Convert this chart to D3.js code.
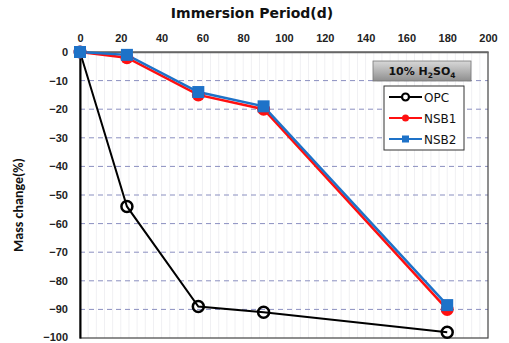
<!DOCTYPE html>
<html>
<head>
<meta charset="utf-8">
<script src="https://cdn.jsdelivr.net/npm/d3@7"></script>
<style>
  html, body { margin: 0; padding: 0; background: #fff; }
  svg { display: block; font-family: "DejaVu Sans", Verdana, sans-serif; }
</style>
</head>
<body>
<svg id="chart" width="509" height="343"></svg>
<script>
// Immersion period (days) and mass change (%) in 10% H2SO4
const days = [0, 23, 58, 90, 180];
const opc  = [0, -54, -89, -91, -98];
const nsb1 = [0, -2, -15, -20, -90];
const nsb2 = [0, -1, -14, -19, -88.5];
const xTicks = [0, 20, 40, 60, 80, 100, 120, 140, 160, 180, 200];
const yTicks = [0, -10, -20, -30, -40, -50, -60, -70, -80, -90, -100];
const seriesNames = ["OPC", "NSB1", "NSB2"];

const svg = d3.select("#chart");
const plotL = 80, plotR = 488, plotT = 52, plotB = 338;

const x = d3.scaleLinear().domain([0, 200]).range([plotL, plotR]);
const y = d3.scaleLinear().domain([0, -100]).range([plotT, plotB]);

// faint vertical stripes
const g = svg.append("g");
g.selectAll("line.vs").data(d3.range(4, 200, 4)).join("line")
  .attr("x1", d => x(d)).attr("x2", d => x(d))
  .attr("y1", plotT).attr("y2", plotB)
  .attr("stroke", "#f0f0f3").attr("stroke-width", 1);

// dashed horizontal gridlines
g.selectAll("line.hg").data(yTicks.filter(v => v < 0 && v > -100)).join("line")
  .attr("x1", plotL).attr("x2", plotR)
  .attr("y1", d => y(d)).attr("y2", d => y(d))
  .attr("stroke", "#8a8fc0").attr("stroke-width", 1)
  .attr("stroke-dasharray", "5,4");

// plot frame
svg.append("rect").attr("x", plotL).attr("y", plotT)
  .attr("width", plotR - plotL).attr("height", plotB - plotT)
  .attr("fill", "none").attr("stroke", "#444").attr("stroke-width", 1.2);

// top axis (x)
const xAxis = svg.append("g").attr("transform", `translate(0,${plotT})`)
  .call(d3.axisTop(x).tickValues(xTicks).tickSize(0).tickPadding(10));
xAxis.select(".domain").attr("stroke", "#666").attr("stroke-width", 1.5);
xAxis.selectAll("text").attr("font-size", 11).attr("font-weight", "bold").attr("fill", "#222");

// left axis (y)
const yAxis = svg.append("g").attr("transform", `translate(${plotL},0)`)
  .call(d3.axisLeft(y).tickValues(yTicks).tickSize(0).tickPadding(12));
yAxis.select(".domain").attr("stroke", "#000").attr("stroke-width", 2);
yAxis.selectAll("text").attr("font-size", 11).attr("font-weight", "bold").attr("fill", "#222");
yAxis.selectAll(".tick").filter(d => d === -100).select("text").attr("dy", "0.2em");

// axis titles
svg.append("text").attr("x", 252).attr("y", 18).attr("text-anchor", "middle")
  .attr("font-size", 14).attr("font-weight", "bold").attr("fill", "#111")
  .text("Immersion Period(d)");
svg.append("text").attr("transform", "translate(23,205) rotate(-90)")
  .attr("text-anchor", "middle").attr("font-size", 14).attr("font-weight", "bold").attr("fill", "#111")
  .style("font-family", "Calibri, Carlito, 'Liberation Sans', Arial, sans-serif")
  .text("Mass change(%)");

const line = d3.line().x(d => x(d[0])).y(d => y(d[1]));
const pts = arr => days.map((d, i) => [d, arr[i]]);

// NSB1 (red)
svg.append("path").datum(pts(nsb1)).attr("d", line)
  .attr("fill", "none").attr("stroke", "#ff1010").attr("stroke-width", 2.5);
// NSB2 (blue)
svg.append("path").datum(pts(nsb2)).attr("d", line)
  .attr("fill", "none").attr("stroke", "#1e72c8").attr("stroke-width", 2.5);
// OPC (black)
svg.append("path").datum(pts(opc)).attr("d", line)
  .attr("fill", "none").attr("stroke", "#000").attr("stroke-width", 2);

svg.selectAll("circle.nsb1").data(pts(nsb1)).join("circle")
  .attr("cx", d => x(d[0])).attr("cy", d => y(d[1])).attr("r", 6.5)
  .attr("fill", "#ff1010");
svg.selectAll("rect.nsb2").data(pts(nsb2)).join("rect")
  .attr("x", d => x(d[0]) - 6).attr("y", d => y(d[1]) - 6)
  .attr("width", 12).attr("height", 12).attr("fill", "#1e72c8");
svg.selectAll("circle.opc").data(pts(opc).slice(1)).join("circle")
  .attr("cx", d => x(d[0])).attr("cy", d => y(d[1])).attr("r", 5.5)
  .attr("fill", "none").attr("stroke", "#000").attr("stroke-width", 2.5);
// origin marker (all series overlap at 0)
svg.append("circle").attr("cx", x(0)).attr("cy", y(0)).attr("r", 6.5).attr("fill", "#1e72c8");

// solution label box
const defs = svg.append("defs");
const grad = defs.append("linearGradient").attr("id", "boxGrad")
  .attr("x1", 0).attr("y1", 0).attr("x2", 0).attr("y2", 1);
grad.append("stop").attr("offset", "0%").attr("stop-color", "#d8d8d8");
grad.append("stop").attr("offset", "50%").attr("stop-color", "#b4b4b4");
grad.append("stop").attr("offset", "100%").attr("stop-color", "#8e8e8e");
svg.append("rect").attr("x", 373).attr("y", 61).attr("width", 98).attr("height", 20)
  .attr("fill", "url(#boxGrad)").attr("stroke", "#777").attr("stroke-width", 0.8);
const lbl = svg.append("text").attr("x", 422).attr("y", 75).attr("text-anchor", "middle")
  .attr("font-size", 11).attr("font-weight", "bold").attr("fill", "#111");
lbl.append("tspan").text("10% H");
lbl.append("tspan").attr("font-size", 7.5).attr("dy", 2.5).text("2");
lbl.append("tspan").attr("dy", -2.5).text("SO");
lbl.append("tspan").attr("font-size", 7.5).attr("dy", 2.5).text("4");

// legend
svg.append("rect").attr("x", 384).attr("y", 86).attr("width", 80).attr("height", 64)
  .attr("fill", "#fff").attr("stroke", "#333").attr("stroke-width", 1);
const legColors = ["#000", "#ff1010", "#1e72c8"];
const leg = svg.append("g");
seriesNames.forEach((name, i) => {
  const cy = 97 + i * 21;
  leg.append("line").attr("x1", 389).attr("x2", 422).attr("y1", cy).attr("y2", cy)
    .attr("stroke", legColors[i]).attr("stroke-width", 2);
  if (i === 0) {
    leg.append("circle").attr("cx", 405.5).attr("cy", cy).attr("r", 3.5)
      .attr("fill", "#fff").attr("stroke", "#000").attr("stroke-width", 2.2);
  } else if (i === 1) {
    leg.append("circle").attr("cx", 405.5).attr("cy", cy).attr("r", 3.5).attr("fill", legColors[i]);
  } else {
    leg.append("rect").attr("x", 402).attr("y", cy - 3.5).attr("width", 7).attr("height", 7).attr("fill", legColors[i]);
  }
  leg.append("text").attr("x", 424).attr("y", cy + 4.5).attr("font-size", 12)
    .attr("fill", "#111").text(name);
});
</script>
</body>
</html>
